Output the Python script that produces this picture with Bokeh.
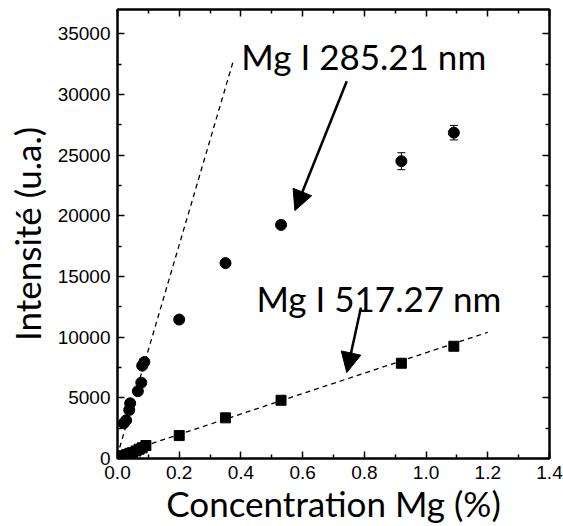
import math
from bokeh.plotting import figure
from bokeh.models import (Range1d, LinearAxis, FixedTicker, PrintfTickFormatter,
                          ColumnDataSource, Whisker, TeeHead, Arrow, NormalHead, Label)
from bokeh.embed import file_html
from bokeh.resources import INLINE

# ---- data ----
mg285_x = [0.020, 0.028, 0.038, 0.041, 0.066, 0.077, 0.080, 0.087, 0.20, 0.35, 0.53, 0.92, 1.09]
mg285_y = [2900, 3150, 4000, 4550, 5550, 6250, 7650, 7950, 11450, 16100, 19250, 24500, 26850]
mg285_err_x = [0.92, 1.09]
mg285_err_y = [24500, 26850]
mg285_err = [700, 600]

mg517_x = [0.010, 0.020, 0.030, 0.040, 0.048, 0.060, 0.070, 0.080, 0.092, 0.20, 0.35, 0.53, 0.92, 1.09]
mg517_y = [150, 230, 320, 420, 480, 620, 760, 880, 1070, 1890, 3350, 4800, 7850, 9250]

fit285_x = [0.007, 0.375]
fit285_y = [905, 32740]
fit517_x = [0.0, 1.2]
fit517_y = [300, 10400]

x_ticks = [0.0, 0.2, 0.4, 0.6, 0.8, 1.0, 1.2, 1.4]
x_minor = [0.1, 0.3, 0.5, 0.7, 0.9, 1.1, 1.3]
y_ticks = [0, 5000, 10000, 15000, 20000, 25000, 30000, 35000]
y_minor = [2500, 7500, 12500, 17500, 22500, 27500, 32500]

ann1_text = "Mg I 285.21 nm"
ann1_pos = [0.798, 33195]
ann2_text = "Mg I 517.27 nm"
ann2_pos = [0.847, 13262]
arrow1 = [0.743, 31080, 0.575, 20430]
arrow2 = [0.789, 12440, 0.743, 7080]

xlabel = "Concentration Mg (%)"
ylabel = "Intensité (u.a.)"

TITLE_FONT = "Lato"
TICK_FONT = "Liberation Sans"

p = figure(width=563, height=526, output_backend="svg", toolbar_location=None,
           x_range=Range1d(0, 1.4), y_range=Range1d(0, 37000),
           x_axis_location=None, y_axis_location=None,
           min_border_left=117, min_border_right=14, min_border_top=9, min_border_bottom=68)
p.grid.visible = False
p.outline_line_color = "black"
p.outline_line_width = 2
p.background_fill_color = "white"
p.border_fill_color = "white"

def make_axis(kind, labels):
    if kind == "x":
        ticker = FixedTicker(ticks=x_ticks, minor_ticks=x_minor)
        fmt = PrintfTickFormatter(format="%.1f" if labels else "")
    else:
        ticker = FixedTicker(ticks=y_ticks, minor_ticks=y_minor)
        fmt = PrintfTickFormatter(format="%d" if labels else "")
    ax = LinearAxis(ticker=ticker, formatter=fmt)
    ax.axis_line_width = 2
    ax.axis_line_color = "black"
    ax.major_tick_in = 7
    ax.major_tick_out = 0
    ax.minor_tick_in = 4
    ax.minor_tick_out = 0
    ax.major_tick_line_width = 1.5
    ax.minor_tick_line_width = 1.5
    ax.major_label_text_font = TICK_FONT
    ax.major_label_text_font_size = "19px"
    ax.major_label_text_color = "black"
    if labels:
        ax.major_label_standoff = 7 if kind == "x" else 7
    else:
        ax.major_label_standoff = 0
    return ax

xb = make_axis("x", True)
xb.axis_label = xlabel
xb.axis_label_text_font = TITLE_FONT
xb.axis_label_text_font_size = "35px"
xb.axis_label_text_font_style = "normal"
xb.axis_label_text_color = "black"
xb.axis_label_standoff = 0
p.add_layout(xb, "below")
p.add_layout(make_axis("x", False), "above")
yl = make_axis("y", True)
yl.axis_label = ylabel
yl.axis_label_text_font = TITLE_FONT
yl.axis_label_text_font_size = "35px"
yl.axis_label_text_font_style = "normal"
yl.axis_label_text_color = "black"
yl.axis_label_standoff = 7
p.add_layout(yl, "left")
p.add_layout(make_axis("y", False), "right")

# dashed fit lines
p.line(fit285_x, fit285_y, line_color="black", line_width=1.3, line_dash="5 4")
p.line(fit517_x, fit517_y, line_color="black", line_width=1.3, line_dash="5 4")

# error bars
src_err = ColumnDataSource(dict(x=mg285_err_x,
                                lo=[v - e for v, e in zip(mg285_err_y, mg285_err)],
                                hi=[v + e for v, e in zip(mg285_err_y, mg285_err)]))
p.add_layout(Whisker(source=src_err, base="x", lower="lo", upper="hi",
                     line_color="black", line_width=1,
                     upper_head=TeeHead(size=8, line_color="black", line_width=1),
                     lower_head=TeeHead(size=8, line_color="black", line_width=1)))

# data points
p.scatter(mg285_x, mg285_y, marker="circle", size=11, fill_color="black", line_color="black")
p.scatter(mg517_x, mg517_y, marker="square", size=10, fill_color="black", line_color="black")

# arrows
for a in (arrow1, arrow2):
    p.add_layout(Arrow(x_start=a[0], y_start=a[1], x_end=a[2], y_end=a[3],
                       line_color="black", line_width=2.5,
                       end=NormalHead(size=20, fill_color="black", line_color="black")))

# annotation texts
for t, pos in ((ann1_text, ann1_pos), (ann2_text, ann2_pos)):
    p.add_layout(Label(x=pos[0], y=pos[1], text=t, text_font=TITLE_FONT, text_font_size="35px",
                       text_color="black", text_align="center", text_baseline="alphabetic"))

open("out.html", "w").write(file_html(p, INLINE))
